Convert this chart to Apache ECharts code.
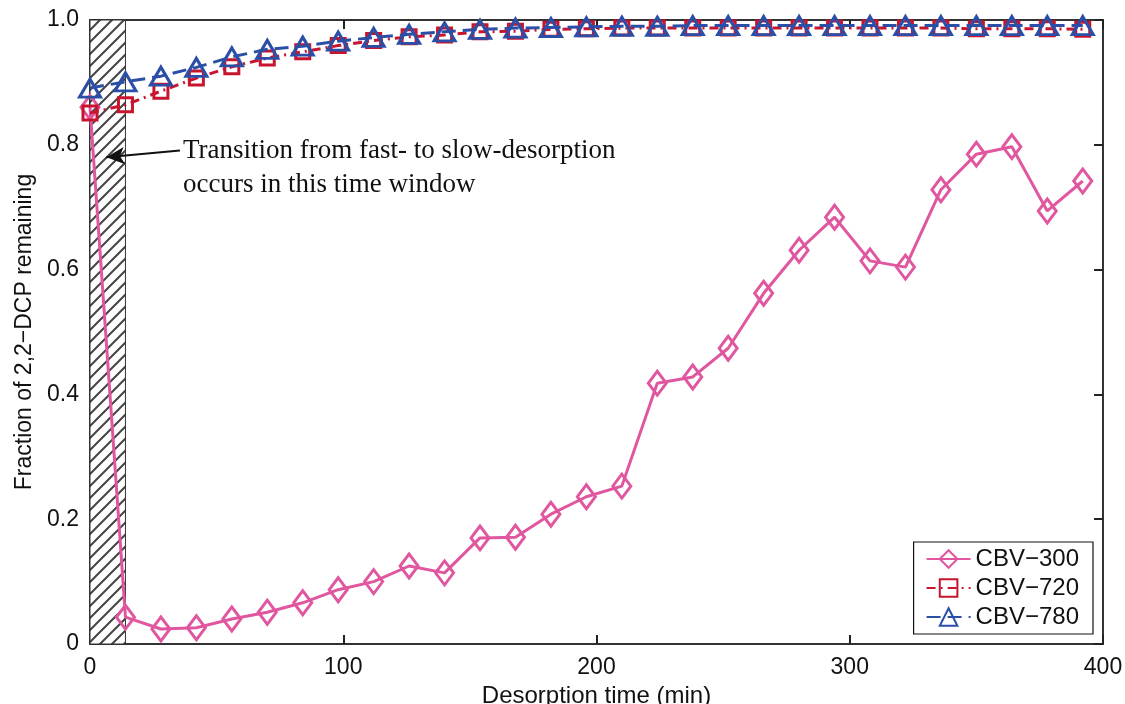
<!DOCTYPE html>
<html>
<head>
<meta charset="utf-8">
<style>
  html, body { margin: 0; padding: 0; background: #fff; }
  #chart { width: 1125px; height: 704px; }
</style>
<script src="https://cdn.jsdelivr.net/npm/echarts@6/dist/echarts.min.js"></script>
</head>
<body>
<div id="chart"></div>
<script>
// desorption time (min)
const times = [0, 14, 28, 42, 56, 70, 84, 98, 112, 126, 140, 154, 168, 182, 196,
  210, 224, 238, 252, 266, 280, 294, 308, 322, 336, 350, 364, 378, 392];
const cbv300 = [0.86, 0.043, 0.024, 0.026, 0.04, 0.051, 0.066, 0.087, 0.10, 0.125, 0.114,
  0.17, 0.171, 0.208, 0.236, 0.253, 0.418, 0.428, 0.474, 0.562, 0.631, 0.684, 0.614,
  0.604, 0.728, 0.785, 0.797, 0.694, 0.742];
const cbv720 = [0.851, 0.864, 0.886, 0.907, 0.925, 0.939, 0.949, 0.959, 0.967, 0.973, 0.976,
  0.981, 0.982, 0.985, 0.986, 0.987, 0.987, 0.987, 0.987, 0.987, 0.987, 0.987, 0.987,
  0.987, 0.987, 0.986, 0.986, 0.986, 0.985];
const cbv780 = [0.891, 0.901, 0.91, 0.924, 0.941, 0.953, 0.958, 0.966, 0.972, 0.977, 0.981,
  0.985, 0.987, 0.988, 0.989, 0.99, 0.99, 0.991, 0.991, 0.991, 0.991, 0.991, 0.991,
  0.991, 0.991, 0.991, 0.991, 0.991, 0.991];
const windowStart = 0;
const windowEnd = 14;

const PINK = '#e0569f';
const RED = '#c8152f';
const BLUE = '#2b4fa6';

// hatch pattern for the transition window
function hatch() {
  const s = 12;
  const c = document.createElement('canvas');
  c.width = s; c.height = s;
  const g = c.getContext('2d');
  g.fillStyle = '#fff';
  g.fillRect(0, 0, s, s);
  g.strokeStyle = '#444';
  g.lineWidth = 2;
  g.beginPath();
  g.moveTo(-2, s + 2); g.lineTo(s + 2, -2);
  g.moveTo(-2, 2); g.lineTo(2, -2);
  g.moveTo(s - 2, s + 2); g.lineTo(s + 2, s - 2);
  g.stroke();
  return c;
}

const myChart = echarts.init(document.getElementById('chart'));
const tickFont = { fontFamily: 'Liberation Sans', fontSize: 23, color: '#111' };

const options = {
  animation: false,
  backgroundColor: '#fff',
  grid: { left: 90, right: 22, top: 20, bottom: 60, containLabel: false, outerBoundsMode: 'none' },
  legend: {
    orient: 'vertical',
    right: 32,
    top: 542,
    itemWidth: 44,
    itemHeight: 22,
    itemGap: 5,
    padding: [5, 14, 5, 12],
    borderColor: '#111',
    borderWidth: 1.2,
    backgroundColor: '#fff',
    textStyle: { fontFamily: 'Liberation Sans', fontSize: 24, color: '#111' },
    data: ['CBV\u2212300', 'CBV\u2212720', 'CBV\u2212780']
  },
  xAxis: [
    {
      type: 'value', min: 0, max: 400, interval: 100,
      name: 'Desorption time (min)', nameLocation: 'middle', nameGap: 36,
      nameTextStyle: { fontFamily: 'Liberation Sans', fontSize: 24, color: '#111' },
      axisLine: { lineStyle: { color: '#333', width: 2 } },
      axisTick: { inside: true, length: 9, lineStyle: { color: '#222', width: 2 } },
      axisLabel: Object.assign({ margin: 12 }, tickFont),
      splitLine: { show: false }
    },
    {
      type: 'value', position: 'top', min: 0, max: 400, interval: 100,
      axisLine: { show: true, onZero: false, lineStyle: { color: '#333', width: 2 } },
      axisTick: { inside: true, length: 9, lineStyle: { color: '#222', width: 2 } },
      axisLabel: { show: false },
      splitLine: { show: false }
    }
  ],
  yAxis: [
    {
      type: 'value', min: 0, max: 1, interval: 0.2,
      name: 'Fraction of 2,2\u2212DCP remaining', nameLocation: 'middle', nameGap: 53,
      nameTextStyle: { fontFamily: 'Liberation Sans', fontSize: 23, color: '#111' },
      axisLine: { show: true, lineStyle: { color: '#333', width: 2 } },
      axisTick: { show: true, inside: true, length: 9, lineStyle: { color: '#222', width: 2 } },
      axisLabel: Object.assign({
        margin: 11,
        formatter: v => (v === 0 ? '0' : v.toFixed(1))
      }, tickFont),
      splitLine: { show: false }
    },
    {
      type: 'value', position: 'right', min: 0, max: 1, interval: 0.2,
      axisLine: { show: true, onZero: false, lineStyle: { color: '#333', width: 2 } },
      axisTick: { show: true, inside: true, length: 9, lineStyle: { color: '#222', width: 2 } },
      axisLabel: { show: false },
      splitLine: { show: false }
    }
  ],
  series: [
    {
      name: 'CBV\u2212300',
      type: 'line',
      z: 3,
      clip: false,
      data: times.map((t, i) => [t, cbv300[i]]),
      symbol: 'diamond',
      symbolSize: [18, 24],
      lineStyle: { color: PINK, width: 3 },
      itemStyle: { color: 'rgba(255,255,255,0)', borderColor: PINK, borderWidth: 3 },
      markArea: {
        silent: true,
        z: 1,
        itemStyle: {
          color: { image: hatch(), repeat: 'repeat' },
          borderColor: '#333',
          borderWidth: 1
        },
        data: [[{ xAxis: windowStart, yAxis: 0 }, { xAxis: windowEnd, yAxis: 1 }]]
      },
      markLine: {
        silent: true,
        symbol: ['none', 'arrow'],
        symbolSize: [13, 18],
        lineStyle: { color: '#111', width: 2, type: 'solid' },
        label: { show: false },
        data: [[{ coord: [35.5, 0.791] }, { coord: [6.5, 0.78] }]]
      }
    },
    {
      name: 'CBV\u2212720',
      type: 'line',
      z: 4,
      clip: false,
      data: times.map((t, i) => [t, cbv720[i]]),
      symbol: 'rect',
      symbolSize: 14,
      lineStyle: { color: RED, width: 3, type: [9, 5, 2, 5] },
      itemStyle: { color: 'rgba(255,255,255,0)', borderColor: RED, borderWidth: 3 }
    },
    {
      name: 'CBV\u2212780',
      type: 'line',
      z: 5,
      clip: false,
      data: times.map((t, i) => [t, cbv780[i]]),
      symbol: 'triangle',
      symbolSize: [21, 18],
      lineStyle: { color: BLUE, width: 3, type: [14, 7] },
      itemStyle: { color: 'rgba(255,255,255,0)', borderColor: BLUE, borderWidth: 3 }
    }
  ],
  graphic: [
    {
      type: 'text', left: 183, top: 134,
      style: {
        text: 'Transition from fast- to slow-desorption\noccurs in this time window',
        font: '27px "Liberation Serif"',
        fill: '#111',
        lineHeight: 34
      }
    }
  ]
};
myChart.setOption(options);
</script>
</body>
</html>
